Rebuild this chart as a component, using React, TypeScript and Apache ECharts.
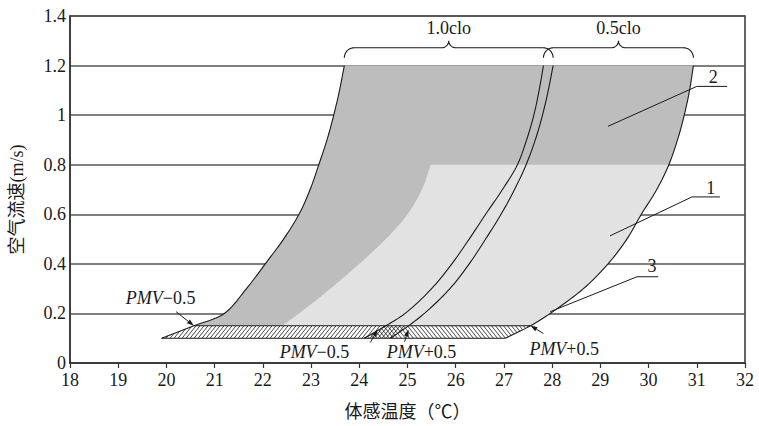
import React, { useEffect, useRef } from "react";
import * as echarts from "echarts";

// ---- data (temperature °C at given air speed m/s) ----
const speeds = [0.1, 0.15, 0.2, 0.3, 0.4, 0.5, 0.6, 0.7, 0.8, 0.9, 1.0, 1.1, 1.2];
const clo10Lower = [19.9, 20.57, 21.2, 21.66, 22.05, 22.43, 22.75, 22.98, 23.16, 23.33, 23.47, 23.59, 23.69]; // 1.0clo PMV-0.5
const clo05Lower = [24.1, 24.55, 24.95, 25.5, 25.92, 26.28, 26.62, 26.97, 27.28, 27.47, 27.62, 27.73, 27.82]; // 0.5clo PMV-0.5
const clo10Upper = [24.65, 25.02, 25.35, 25.88, 26.28, 26.62, 26.94, 27.22, 27.46, 27.65, 27.8, 27.92, 28.02]; // 1.0clo PMV+0.5
const clo05Upper = [27.03, 27.55, 27.96, 28.65, 29.16, 29.55, 29.85, 30.17, 30.42, 30.6, 30.74, 30.85, 30.93]; // 0.5clo PMV+0.5
const zone1Speeds = [0.15, 0.2, 0.3, 0.4, 0.5, 0.6, 0.7, 0.8];
const zone1Left = [22.4, 22.75, 23.4, 24.0, 24.55, 25.0, 25.3, 25.48];

const xMin = 18, xMax = 32, xStep = 1;
const yMin = 0, yMax = 1.4, yStep = 0.2;

const LATIN = "Liberation Serif";
const FONT = "Liberation Serif, Noto Sans CJK SC, serif";
const INK = "#1a1a1a";
const DARK = "#bdbdbd";
const LIGHT = "#e2e2e2";

const SEG = 10;

// centripetal Catmull-Rom, used only to draw smooth curves through the read points
function catmull(pts: number[][], seg = SEG): number[][] {
  const n = pts.length;
  const out: number[][] = [];
  const d = (a: number[], b: number[]) => Math.max(Math.sqrt(Math.hypot(b[0] - a[0], b[1] - a[1])), 1e-4);
  for (let i = 0; i < n - 1; i++) {
    const P1 = pts[i], P2 = pts[i + 1];
    const P0 = i > 0 ? pts[i - 1] : [2 * P1[0] - P2[0], 2 * P1[1] - P2[1]];
    const P3 = i + 2 < n ? pts[i + 2] : [2 * P2[0] - P1[0], 2 * P2[1] - P1[1]];
    const t0 = 0, t1 = t0 + d(P0, P1), t2 = t1 + d(P1, P2), t3 = t2 + d(P2, P3);
    const lerp = (p: number[], q: number[], ta: number, tb: number, t: number) => [
      ((tb - t) / (tb - ta)) * p[0] + ((t - ta) / (tb - ta)) * q[0],
      ((tb - t) / (tb - ta)) * p[1] + ((t - ta) / (tb - ta)) * q[1],
    ];
    for (let s = 0; s < seg; s++) {
      const t = t1 + ((t2 - t1) * s) / seg;
      const A1 = lerp(P0, P1, t0, t1, t), A2 = lerp(P1, P2, t1, t2, t), A3 = lerp(P2, P3, t2, t3, t);
      const B1 = lerp(A1, A2, t0, t2, t), B2 = lerp(A2, A3, t1, t3, t);
      out.push(lerp(B1, B2, t1, t2, t));
    }
  }
  out.push(pts[n - 1]);
  return out;
}

function clipSeg(a: number[], b: number[], poly: number[][]): number[][][] {
  const ts: number[] = [];
  const dx = b[0] - a[0], dy = b[1] - a[1];
  for (let i = 0; i < poly.length; i++) {
    const p = poly[i], q = poly[(i + 1) % poly.length];
    const ex = q[0] - p[0], ey = q[1] - p[1];
    const den = dx * ey - dy * ex;
    if (Math.abs(den) < 1e-9) continue;
    const t = ((p[0] - a[0]) * ey - (p[1] - a[1]) * ex) / den;
    const u = ((p[0] - a[0]) * dy - (p[1] - a[1]) * dx) / den;
    if (t >= 0 && t <= 1 && u >= 0 && u < 1) ts.push(t);
  }
  ts.sort((x, y) => x - y);
  const segs: number[][][] = [];
  for (let i = 0; i + 1 < ts.length; i += 2) {
    segs.push([
      [a[0] + dx * ts[i], a[1] + dy * ts[i]],
      [a[0] + dx * ts[i + 1], a[1] + dy * ts[i + 1]],
    ]);
  }
  return segs;
}

function hatch(poly: number[][], dir: number, step = 4, k = 0.8): any[] {
  let minX = Infinity, maxX = -Infinity, minY = Infinity, maxY = -Infinity;
  poly.forEach((p) => {
    minX = Math.min(minX, p[0]); maxX = Math.max(maxX, p[0]);
    minY = Math.min(minY, p[1]); maxY = Math.max(maxY, p[1]);
  });
  const h = maxY - minY + 4;
  const out: any[] = [];
  for (let x0 = minX - k * h - step; x0 <= maxX + k * h + step; x0 += step) {
    const a = [x0, maxY + 2];
    const b = [x0 + dir * k * h, minY - 2];
    clipSeg(a, b, poly).forEach((s) =>
      out.push({
        type: "line",
        shape: { x1: s[0][0], y1: s[0][1], x2: s[1][0], y2: s[1][1] },
        style: { stroke: INK, lineWidth: 0.8 },
      })
    );
  }
  return out;
}

function bracePts(xL: number, xR: number, xM: number, yLine: number, rEnd: number, rTip: number): number[][] {
  const pts: number[][] = [];
  const arc = (cx: number, cy: number, r: number, t0: number, t1: number) => {
    const n = 10;
    for (let i = 0; i <= n; i++) {
      const t = t0 + ((t1 - t0) * i) / n;
      pts.push([cx + r * Math.cos(t), cy + r * Math.sin(t)]);
    }
  };
  arc(xL + rEnd, yLine + rEnd, rEnd, Math.PI, 1.5 * Math.PI);
  arc(xM - rTip, yLine - rTip, rTip, 0.5 * Math.PI, 0);
  arc(xM + rTip, yLine - rTip, rTip, Math.PI, 0.5 * Math.PI);
  arc(xR - rEnd, yLine + rEnd, rEnd, 1.5 * Math.PI, 2 * Math.PI);
  return pts;
}

function arrow(from: number[], to: number[]): any[] {
  const dx = to[0] - from[0], dy = to[1] - from[1];
  const len = Math.hypot(dx, dy);
  const ux = dx / len, uy = dy / len;
  const L = 7, W = 2.4;
  const bx = to[0] - ux * L, by = to[1] - uy * L;
  return [
    { type: "line", shape: { x1: from[0], y1: from[1], x2: bx, y2: by }, style: { stroke: INK, lineWidth: 1 } },
    {
      type: "polygon",
      shape: { points: [to, [bx - uy * W, by + ux * W], [bx + uy * W, by - ux * W]] },
      style: { fill: INK },
    },
  ];
}

function txt(p: number[], text: string, size = 18, rich?: any): any {
  return {
    type: "text",
    x: p[0],
    y: p[1],
    style: {
      text,
      fill: INK,
      fontFamily: LATIN,
      fontSize: size,
      align: "center",
      verticalAlign: "middle",
      rich,
    },
  };
}

const pmvRich = {
  i: { fontFamily: LATIN, fontSize: 18, fontStyle: "italic", fill: INK },
  n: { fontFamily: LATIN, fontSize: 18, fill: INK },
};

function renderItem(_params: any, api: any) {
  const px = (xs: number[], ys: number[]) => xs.map((x, i) => api.coord([x, ys[i]]));
  const L = catmull(px(clo10Lower, speeds));
  const R = catmull(px(clo05Upper, speeds));
  const A = catmull(px(clo05Lower, speeds));
  const B = catmull(px(clo10Upper, speeds));
  const Z = catmull(px(zone1Left, zone1Speeds));
  const c = (x: number, y: number) => api.coord([x, y]);

  const dark = [...L.slice(SEG), ...R.slice(SEG).reverse()];
  const light = [...Z, ...R.slice(SEG, 8 * SEG + 1).reverse()];
  const strip10 = [...L.slice(0, SEG + 1), ...B.slice(0, SEG + 1).reverse()];
  const strip05 = [...A.slice(0, SEG + 1), ...R.slice(0, SEG + 1).reverse()];

  const curveStyle = { stroke: INK, lineWidth: 1.1, fill: "none" };
  const children: any[] = [
    { type: "polygon", shape: { points: dark }, style: { fill: DARK } },
    { type: "polygon", shape: { points: light }, style: { fill: LIGHT } },
    { type: "polygon", shape: { points: strip10 }, style: { fill: "#fff" } },
    { type: "polygon", shape: { points: strip05 }, style: { fill: "#fff" } },
    ...hatch(strip10, 1),
    ...hatch(strip05, -1),
    { type: "polyline", shape: { points: L }, style: curveStyle },
    { type: "polyline", shape: { points: R }, style: curveStyle },
    { type: "polyline", shape: { points: A }, style: curveStyle },
    { type: "polyline", shape: { points: B }, style: curveStyle },
    { type: "polyline", shape: { points: [L[SEG], R[SEG]] }, style: curveStyle },
    { type: "polyline", shape: { points: [L[0], R[0]] }, style: curveStyle },
  ];

  // braces
  const top = speeds.length - 1;
  const yLine = c(xMin, 1.272)[1];
  const b10 = bracePts(
    c(clo10Lower[top], 0)[0], c(clo10Upper[top], 0)[0],
    c((clo10Lower[top] + clo10Upper[top]) / 2, 0)[0], yLine, 10, 7
  );
  const b05 = bracePts(
    c(clo05Lower[top], 0)[0], c(clo05Upper[top], 0)[0],
    c((clo05Lower[top] + clo05Upper[top]) / 2, 0)[0], yLine, 10, 7
  );
  children.push({ type: "polyline", shape: { points: b10 }, style: curveStyle });
  children.push({ type: "polyline", shape: { points: b05 }, style: curveStyle });
  children.push(txt(c((clo10Lower[top] + clo10Upper[top]) / 2, 1.353), "1.0clo"));
  children.push(txt(c((clo05Lower[top] + clo05Upper[top]) / 2, 1.353), "0.5clo"));

  // numbered leaders
  const leader = (label: string, tp: number[], ux0: number, ux1: number, uy: number, end: number[]) => {
    children.push(txt(c(tp[0], tp[1]), label));
    children.push({
      type: "polyline",
      shape: { points: [c(ux1, uy), c(ux0, uy), c(end[0], end[1])] },
      style: { stroke: INK, lineWidth: 1, fill: "none" },
    });
  };
  leader("2", [31.34, 1.155], 31.0, 31.63, 1.116, [29.16, 0.955]);
  leader("1", [31.29, 0.708], 30.9, 31.48, 0.67, [29.2, 0.513]);
  leader("3", [30.07, 0.39], 29.76, 30.2, 0.348, [27.96, 0.207]);

  // PMV labels
  const pmv = (p: number[], sign: string, from: number[], to: number[]) => {
    children.push(txt(c(p[0], p[1]), `{i|PMV}{n|${sign}0.5}`, 18, pmvRich));
    children.push(...arrow(c(from[0], from[1]), c(to[0], to[1])));
  };
  pmv([19.88, 0.264], "\u2212", [20.2, 0.207], [clo10Lower[1], speeds[1]]);
  pmv([23.07, 0.046], "\u2212", [24.23, 0.083], [24.38, 0.135]);
  pmv([25.29, 0.046], "+", [24.94, 0.086], [25.02, 0.135]);
  pmv([28.25, 0.058], "+", [27.82, 0.119], [27.55, 0.151]);

  return { type: "group", children };
}

export default function App() {
  const ref = useRef<HTMLDivElement>(null);
  useEffect(() => {
    if (!ref.current) return;
    const chart = echarts.init(ref.current, null, { renderer: "svg" });
    chart.setOption({
      animation: false,
      backgroundColor: "#fff",
      textStyle: { fontFamily: LATIN },
      grid: { left: 69, right: 14, top: 16, bottom: 62, show: true, borderColor: "#333", borderWidth: 1.5 },
      xAxis: {
        type: "value",
        min: xMin,
        max: xMax,
        interval: xStep,
        name: "体感温度（℃）",
        nameLocation: "middle",
        nameGap: 40,
        nameTextStyle: { fontFamily: FONT, fontSize: 18, color: INK },
        axisLine: { lineStyle: { color: "#333", width: 1.5 } },
        axisTick: { show: true, length: 5, lineStyle: { color: "#333", width: 1.2 } },
        axisLabel: { fontFamily: LATIN, fontSize: 18, color: INK, margin: 8 },
        splitLine: { show: false },
      },
      yAxis: {
        type: "value",
        min: yMin,
        max: yMax,
        interval: yStep,
        name: "空气流速(m/s)",
        nameLocation: "middle",
        nameGap: 44,
        nameRotate: 90,
        nameTextStyle: { fontFamily: FONT, fontSize: 18, color: INK, padding: [0, 20, 0, 0] },
        axisLine: { show: true, lineStyle: { color: "#333", width: 1.5 } },
        axisTick: { show: false },
        axisLabel: { fontFamily: LATIN, fontSize: 18, color: INK, margin: 4 },
        splitLine: { show: true, lineStyle: { color: "#555", width: 1.5 } },
      },
      series: [
        {
          type: "custom",
          coordinateSystem: "cartesian2d",
          clip: false,
          silent: true,
          data: [[xMin, yMin]],
          renderItem,
        },
      ],
    });
    return () => chart.dispose();
  }, []);
  return (
    <div
      ref={ref}
      style={{ position: "fixed", left: 0, top: 0, width: 759, height: 426, background: "#fff" }}
    />
  );
}
